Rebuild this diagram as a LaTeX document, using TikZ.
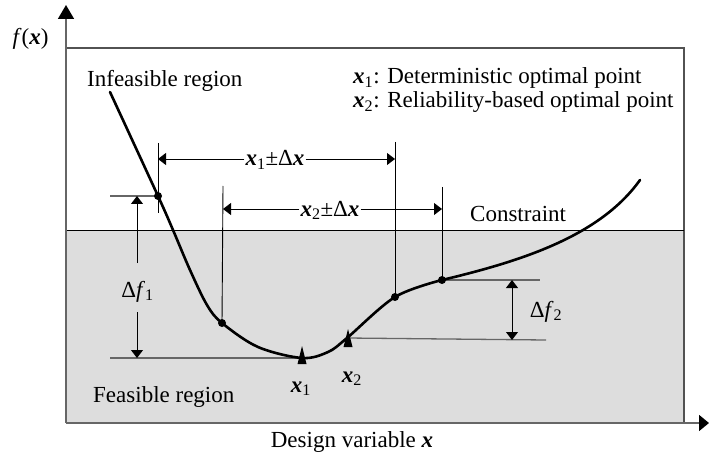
\documentclass[tikz,border=0pt]{standalone}
\usepackage{fontspec}
\setmainfont{Liberation Serif}
\usetikzlibrary{arrows.meta}
\newcommand\bfx{\textbf{\textit{x}}}
\definecolor{feasgray}{HTML}{DDDDDD}
\definecolor{guidegray}{HTML}{666666}
\begin{document}
\begin{tikzpicture}[x=1pt,y=-1pt,
  lbl/.style={font=\fontsize{23}{27}\selectfont, inner sep=0pt},
  dim/.style={line width=0.9pt, black},
  guide/.style={line width=1.3pt, guidegray},
  axis/.style={line width=1.6pt, guidegray},
  tipto/.style={-{Triangle[width=12pt,length=8pt,color=black]}},
  tipboth/.style={{Triangle[width=12pt,length=8pt,color=black]}-{Triangle[width=12pt,length=8pt,color=black]}},
  axtip/.style={-{Triangle[width=16pt,length=14pt,color=black]}},
  curvestyle/.style={line width=2.6pt, black, line cap=round, line join=round},
  dot/.style={circle, fill=black, inner sep=0pt, minimum size=8pt},
]
\useasboundingbox (0,0) rectangle (709,457);
% regions
\fill[feasgray] (66,230) rectangle (684,423);
\draw[line width=1.2pt, guidegray!80!black] (66,48) -- (684,48) -- (684,423);
\draw[line width=1pt, black] (66,230) -- (684,230);
% axes
\coordinate (O) at (66,423);
\coordinate (ytop) at (66,5);
\coordinate (xend) at (709,423);
\draw[axis, axtip] (O) -- (ytop);
\draw[axis, -{Triangle[width=16pt,length=10pt,color=black]}] (O) -- (xend);
% curve coordinates
\coordinate (c0) at (110,92);
\coordinate (pA) at (158,196);
\coordinate (c1) at (173,230);
\coordinate (c2) at (190,270);
\coordinate (c3) at (207,305);
\coordinate (pB) at (222,323);
\coordinate (c4) at (258,347);
\coordinate (m1) at (302,358);
\coordinate (c5) at (328,352);
\coordinate (m2) at (347,338);
\coordinate (pC) at (395,297);
\coordinate (pD) at (442,280);
\coordinate (k1) at (522,261);
\coordinate (k2) at (600,236);
\coordinate (cE) at (640,180);
% vertical ticks
\coordinate (tA) at (158,143); \coordinate (tAb) at (158,213);
\coordinate (tB) at (223,186);
\coordinate (tC) at (395,142);
\coordinate (tD) at (442,187);
\draw[dim] (tA) -- (tAb);
\draw[dim] (tB) -- (pB);
\draw[dim] (tC) -- (pC);
\draw[dim] (tD) -- (pD);
% guide lines
\coordinate (g1a) at (110,196);
\coordinate (g1b) at (110,358);
\coordinate (g2a) at (540,280);
\coordinate (g2b) at (546,340);
\draw[guide] (g1a) -- (pA);
\draw[guide] (g1b) -- (m1);
\draw[guide] (pD) -- (g2a);
\draw[guide] (m2) -- (g2b);
% curve
\draw[curvestyle] plot[smooth, tension=0.55] coordinates {(c0) (pA) (c1) (c2) (c3) (pB) (c4) (m1) (c5) (m2) (pC) (pD)} .. controls (k1) and (k2) .. (cE);
% dots
\foreach \p in {pA,pB,pC,pD} \node[dot] at (\p) {};
% triangle markers
\fill (302,346) -- (306.5,364) -- (297.5,364) -- cycle;
\fill (348,329) -- (352.5,347) -- (343.5,347) -- cycle;
% x +- dx dimensions
\node[lbl, fill=white, inner xsep=1pt, anchor=base] (l1) at (275,166) {\bfx\textsubscript{1}±Δ\bfx};
\coordinate (d1a) at (158,159); \coordinate (d1b) at (395,159);
\draw[dim, tipto] (l1.west |- d1a) -- (d1a);
\draw[dim, tipto] (l1.east |- d1b) -- (d1b);
\node[lbl, fill=white, inner xsep=1pt, anchor=base] (l2) at (330,216) {\bfx\textsubscript{2}±Δ\bfx};
\coordinate (d2a) at (223,209); \coordinate (d2b) at (442,209);
\draw[dim, tipto] (l2.west |- d2a) -- (d2a);
\draw[dim, tipto] (l2.east |- d2b) -- (d2b);
% delta f1
\node[lbl, anchor=base] (df1) at (137.5,297) {Δ\textit{f}\textsubscript{1}};
\coordinate (e1a) at (137,196); \coordinate (e1b) at (137,358);
\coordinate (e1c) at (137,263); \coordinate (e1d) at (137,312);
\draw[dim, tipto] (e1c) -- (e1a);
\draw[dim, tipto] (e1d) -- (e1b);
% delta f2
\coordinate (e2a) at (512,280); \coordinate (e2b) at (512,340);
\draw[dim, tipboth] (e2a) -- (e2b);
\node[lbl, anchor=base] (df2) at (546,317) {Δ\textit{f}\textsubscript{2}};
% texts
\node[lbl, anchor=base] (fx) at (30.5,45) {\textit{f}(\bfx)};
\node[lbl, anchor=base west] (infeas) at (87,87) {Infeasible region};
\node[lbl, anchor=base west] (leg1) at (353,84) {\bfx\textsubscript{1}: Deterministic optimal point};
\node[lbl, anchor=base west] (leg2) at (353,108) {\bfx\textsubscript{2}: Reliability-based optimal point};
\node[lbl, anchor=base west] (constr) at (470,221) {Constraint};
\node[lbl, anchor=base west] (feas) at (93,402) {Feasible region};
\node[lbl, anchor=base] (xl1) at (301,392) {\bfx\textsubscript{1}};
\node[lbl, anchor=base] (xl2) at (352,382) {\bfx\textsubscript{2}};
\node[lbl, anchor=base] (dv) at (352,447) {Design variable \bfx};
\end{tikzpicture}
\end{document}
